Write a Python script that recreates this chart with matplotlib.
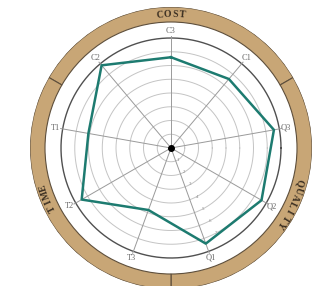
import numpy as np
import matplotlib
matplotlib.use("Agg")
import matplotlib.pyplot as plt

# ---- data ----
categories = ["C3", "C1", "Q3", "Q2", "Q1", "T3", "T2", "T1", "C2"]
values = [6.6, 6.55, 7.6, 7.6, 7.4, 4.8, 7.5, 6.1, 7.85]
groups = ["COST", "QUALITY", "TIME"]
ring_ticks = [1, 2, 3, 4, 5, 6, 7]
r_max = 8

# ---- layout helpers ----
PX = 13.75                      # pixels per unit
R_OUT = 141 / PX
R_IN = 126 / PX
SERIF = "Liberation Serif"
label_deg = [90, -25, 202]      # where each group name sits on the ring

n = len(categories)
angles = np.deg2rad(90 - 360.0 / n * np.arange(n))

fig = plt.figure(figsize=(3.12, 2.86), dpi=100)
ax = fig.add_axes([30 / 312, -3 / 286, 282 / 312, 282 / 286], projection="polar")
ax.set_ylim(0, R_OUT)
ax.set_xticks([])
ax.set_yticks([])
ax.grid(False)
ax.spines["polar"].set_visible(False)

# outer tan ring with three sectors
g_centers = np.deg2rad(90 - 120 * np.arange(len(groups)))
ax.bar(g_centers, R_OUT - R_IN, width=np.deg2rad(120), bottom=R_IN,
       color="#c8a676", edgecolor="#5e4f3c", linewidth=0.8, zorder=2)

# group labels along the ring (tops outward, clockwise)
r_lab = (R_OUT + R_IN) / 2
step = 7.6 / (r_lab * PX)
for g, cd in zip(groups, label_deg):
    c = np.deg2rad(cd)
    k = len(g)
    for i, ch in enumerate(g):
        th = c - (i - (k - 1) / 2) * step
        ax.text(th, r_lab, ch, rotation=np.rad2deg(th) - 90, rotation_mode="anchor",
                ha="center", va="center", fontsize=7, family=SERIF,
                fontweight="bold", color="#3b2f22", zorder=5)

# grid circles
tt = np.linspace(0, 2 * np.pi, 400)
for r in ring_ticks:
    ax.plot(tt, np.full_like(tt, r), color="#c4c4c4", lw=0.7, zorder=1)
ax.plot(tt, np.full_like(tt, r_max), color="#505050", lw=1.0, zorder=1)

# spokes
for a in angles:
    ax.plot([a, a], [0, r_max + 0.15], color="#9a9a9a", lw=0.7, zorder=1)

# tick labels
ta = np.deg2rad(-62)
for r in ring_ticks:
    ax.text(ta, r, str(r), fontsize=3.5, color="#8a8a8a", ha="center",
            va="center", family=SERIF, zorder=3)

# category labels
for a, lab in zip(angles, categories):
    ax.text(a, 8.5, lab, fontsize=6, color="#6a6a6a", family=SERIF,
            ha="center", va="center", zorder=4)

# data polygon
vals = np.r_[values, values[:1]]
angs = np.r_[angles, angles[:1]]
ax.plot(angs, vals, color="#1d7b70", lw=1.8, zorder=6)

# centre dot
ax.plot([0], [0], "o", color="black", ms=4, zorder=7)

fig.savefig("out.png", dpi=100)
